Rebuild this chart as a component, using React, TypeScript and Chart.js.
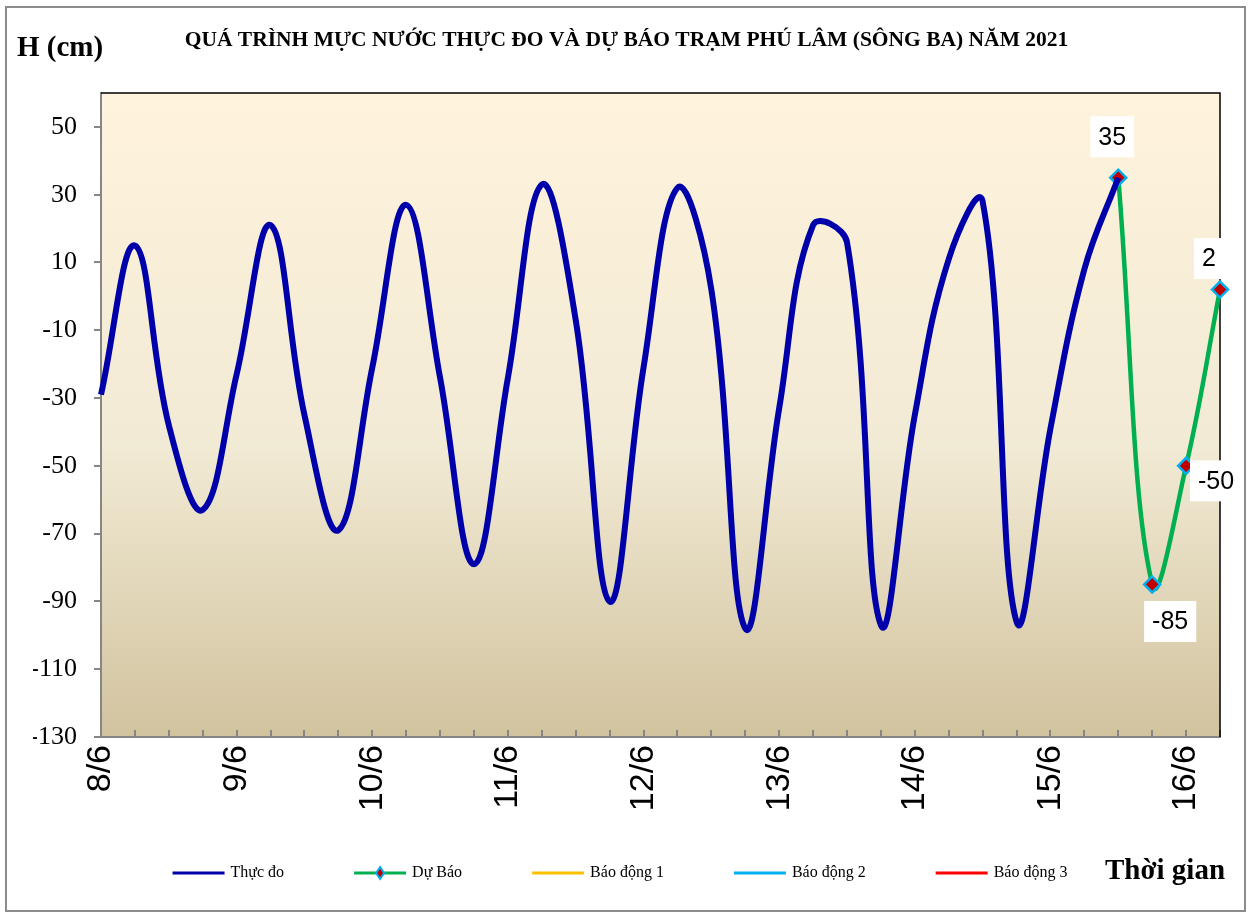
import React, { useEffect, useRef } from 'react';
import { Chart, registerables } from 'chart.js';

Chart.register(...registerables);

// ---------- data ----------
const chartTitle = 'QUÁ TRÌNH MỰC NƯỚC THỰC ĐO VÀ DỰ BÁO TRẠM PHÚ LÂM (SÔNG BA) NĂM 2021';
const yAxisTitle = 'H (cm)';
const xAxisTitle = 'Thời gian';
const days = ['8/6', '9/6', '10/6', '11/6', '12/6', '13/6', '14/6', '15/6', '16/6'];
const hours = ['00h', '06h', '12h', '18h'];
const seriesNames = ['Thực đo', 'Dự Báo', 'Báo động 1', 'Báo động 2', 'Báo động 3'];
// observed water level every 6 hours from 8/6 00h to 15/6 12h (cm)
const observed = [
  -29, 15, -38, -63, -23, 21, -35, -69, -21, 27, -24, -79, -24, 33, -7, -90,
  -21, 32, 2, -98, -33, 21, 16, -97, -35, 11, 28, -96, -39, 8, 35,
];
// forecast from 15/6 12h to 16/6 06h (cm)
const forecast = [35, -85, -50, 2];
const alarm1: number[] = [];
const alarm2: number[] = [];
const alarm3: number[] = [];
const yTicks = [50, 30, 10, -10, -30, -50, -70, -90, -110, -130];
const yMin = -130;
const yMax = 60;

// ---------- derived ----------
const timeLabels = days
  .flatMap((d) => hours.map((h) => `${d} ${h}`))
  .slice(0, observed.length + forecast.length - 1);
const forecastStart = observed.length - 1;
const forecastData: (number | null)[] = Array(forecastStart).fill(null).concat(forecast);

// ---------- styles ----------
const COLORS = {
  observed: '#0000AA',
  forecast: '#00B050',
  alarm1: '#FFC000',
  alarm2: '#00B0F0',
  alarm3: '#FF0000',
  marker: '#C00000',
  markerBorder: '#00B0F0',
  axis: '#868686',
};
const labelOffsets: [number, number][] = [
  [-6, -41],
  [18, 37],
  [30, 15],
  [-11, -31],
];

const decorPlugin = {
  id: 'decor',
  beforeDraw(chart: any) {
    const { ctx, chartArea: a } = chart;
    ctx.save();
    const g = ctx.createLinearGradient(0, a.top, 0, a.bottom);
    g.addColorStop(0, '#FFF3DD');
    g.addColorStop(0.55, '#F1EAD4');
    g.addColorStop(1, '#D2C39F');
    ctx.fillStyle = g;
    ctx.fillRect(a.left, a.top, a.right - a.left, a.bottom - a.top);
    ctx.strokeStyle = '#8C8C8C';
    ctx.lineWidth = 2;
    ctx.strokeRect(6, 7, 1239, 904);
    ctx.restore();
  },
  beforeDatasetsDraw(chart: any) {
    const { ctx, chartArea: a } = chart;
    const xs = chart.scales.x;
    ctx.save();
    ctx.strokeStyle = COLORS.axis;
    ctx.lineWidth = 2;
    ctx.beginPath();
    for (let i = 1; i < chart.data.labels.length; i++) {
      const px = Math.round(xs.getPixelForValue(i));
      ctx.moveTo(px, a.bottom);
      ctx.lineTo(px, a.bottom - 7);
    }
    ctx.stroke();
    ctx.strokeStyle = '#000';
    ctx.lineWidth = 1.5;
    ctx.beginPath();
    ctx.moveTo(a.left, a.top);
    ctx.lineTo(a.right, a.top);
    ctx.lineTo(a.right, a.bottom);
    ctx.stroke();
    ctx.restore();
  },
  afterDatasetsDraw(chart: any) {
    const { ctx } = chart;
    const meta = chart.getDatasetMeta(1);
    ctx.save();
    ctx.font = '25px "Liberation Sans", Arial, sans-serif';
    ctx.textAlign = 'center';
    ctx.textBaseline = 'middle';
    forecast.forEach((v, k) => {
      const el = meta.data[forecastStart + k];
      if (!el) return;
      const [dx, dy] = labelOffsets[k];
      const text = String(v);
      const w = ctx.measureText(text).width + 16;
      const h = 41;
      const cx = el.x + dx;
      const cy = el.y + dy;
      ctx.fillStyle = '#FFFFFF';
      ctx.fillRect(cx - w / 2, cy - h / 2, w, h);
      ctx.fillStyle = '#000';
      ctx.fillText(text, cx, cy + 1);
    });
    ctx.restore();
  },
  afterDraw(chart: any) {
    const { ctx } = chart;
    ctx.save();
    // axis titles
    ctx.fillStyle = '#000';
    ctx.textBaseline = 'middle';
    ctx.textAlign = 'left';
    ctx.font = 'bold 29px "Liberation Serif", "Times New Roman", serif';
    ctx.fillText(yAxisTitle, 17, 49);
    ctx.fillText(xAxisTitle, 1105, 872);
    // legend
    ctx.font = '16px "Liberation Serif", "Times New Roman", serif';
    const sample = 52;
    const gap = 6;
    const spacing = 70;
    const items = chart.data.datasets.map((ds: any) => ({
      label: ds.label as string,
      color: ds.borderColor as string,
      marker: ds.pointStyle === 'rectRot',
    }));
    const widths = items.map((it: any) => sample + gap + ctx.measureText(it.label).width);
    const total = widths.reduce((s: number, w: number) => s + w, 0) + spacing * (items.length - 1);
    let x = 620 - total / 2;
    const y = 873;
    items.forEach((it: any, i: number) => {
      ctx.strokeStyle = it.color;
      ctx.lineWidth = 3;
      ctx.beginPath();
      ctx.moveTo(x, y);
      ctx.lineTo(x + sample, y);
      ctx.stroke();
      if (it.marker) {
        const mx = x + sample / 2;
        ctx.beginPath();
        ctx.moveTo(mx, y - 6);
        ctx.lineTo(mx + 4, y);
        ctx.lineTo(mx, y + 6);
        ctx.lineTo(mx - 4, y);
        ctx.closePath();
        ctx.fillStyle = COLORS.marker;
        ctx.fill();
        ctx.strokeStyle = COLORS.markerBorder;
        ctx.lineWidth = 2;
        ctx.stroke();
      }
      ctx.fillStyle = '#000';
      ctx.textAlign = 'left';
      ctx.fillText(it.label, x + sample + gap, y);
      x += widths[i] + spacing;
    });
    ctx.restore();
  },
};

export default function App() {
  const ref = useRef<HTMLCanvasElement>(null);
  useEffect(() => {
    if (!ref.current) return;
    const chart = new Chart(ref.current, {
      type: 'line',
      data: {
        labels: timeLabels,
        datasets: [
          {
            label: seriesNames[0],
            data: observed,
            borderColor: COLORS.observed,
            backgroundColor: COLORS.observed,
            borderWidth: 6,
            pointRadius: 0,
            tension: 0.4,
          },
          {
            label: seriesNames[1],
            data: forecastData,
            borderColor: COLORS.forecast,
            backgroundColor: COLORS.marker,
            borderWidth: 4.5,
            pointStyle: 'rectRot',
            pointRadius: 8,
            pointBackgroundColor: COLORS.marker,
            pointBorderColor: COLORS.markerBorder,
            pointBorderWidth: 2.5,
            tension: 0.4,
          },
          { label: seriesNames[2], data: alarm1, borderColor: COLORS.alarm1, pointRadius: 0 },
          { label: seriesNames[3], data: alarm2, borderColor: COLORS.alarm2, pointRadius: 0 },
          { label: seriesNames[4], data: alarm3, borderColor: COLORS.alarm3, pointRadius: 0 },
        ],
      },
      options: {
        responsive: false,
        animation: false,
        layout: { padding: { left: 33, right: 33, top: 0, bottom: 0 } },
        plugins: {
          legend: { display: false },
          tooltip: { enabled: false },
          title: {
            display: true,
            text: chartTitle,
            color: '#000',
            font: { family: '"Liberation Serif", "Times New Roman", serif', size: 21.5, weight: 'bold', lineHeight: 1.2 },
            padding: { top: 28, bottom: 39.2 },
          },
        },
        scales: {
          x: {
            type: 'category',
            offset: false,
            afterFit: (s: any) => {
              s.height = 178;
              s.paddingLeft = 0;
              s.paddingRight = 0;
            },
            grid: { display: true, drawOnChartArea: false, drawTicks: false },
            border: { display: true, color: COLORS.axis, width: 2 },
            ticks: {
              autoSkip: false,
              maxRotation: 90,
              minRotation: 90,
              padding: 8,
              color: '#000',
              font: { family: '"Liberation Sans", Arial, sans-serif', size: 34 },
              callback: (_v: any, i: number) => {
                const lab = timeLabels[i];
                return lab && lab.endsWith(hours[0]) ? lab.split(' ')[0] : '';
              },
            },
          },
          y: {
            min: yMin,
            max: yMax,
            afterFit: (s: any) => {
              s.width = 68;
            },
            afterBuildTicks: (s: any) => {
              s.ticks = yTicks.map((v) => ({ value: v }));
            },
            grid: { display: true, drawOnChartArea: false, drawTicks: true, tickLength: 7, color: COLORS.axis, lineWidth: 2 },
            border: { display: true, color: COLORS.axis, width: 2 },
            ticks: {
              padding: 17,
              color: '#000',
              font: { family: '"Liberation Serif", "Times New Roman", serif', size: 26 },
              callback: (v: any) => String(v),
            },
          },
        },
      },
      plugins: [decorPlugin],
    } as any);
    return () => chart.destroy();
  }, []);
  return (
    <div style={{ position: 'absolute', left: 0, top: 0, width: 1253, height: 915, background: '#fff' }}>
      <canvas ref={ref} width={1253} height={915} style={{ width: 1253, height: 915, display: 'block' }} />
    </div>
  );
}
